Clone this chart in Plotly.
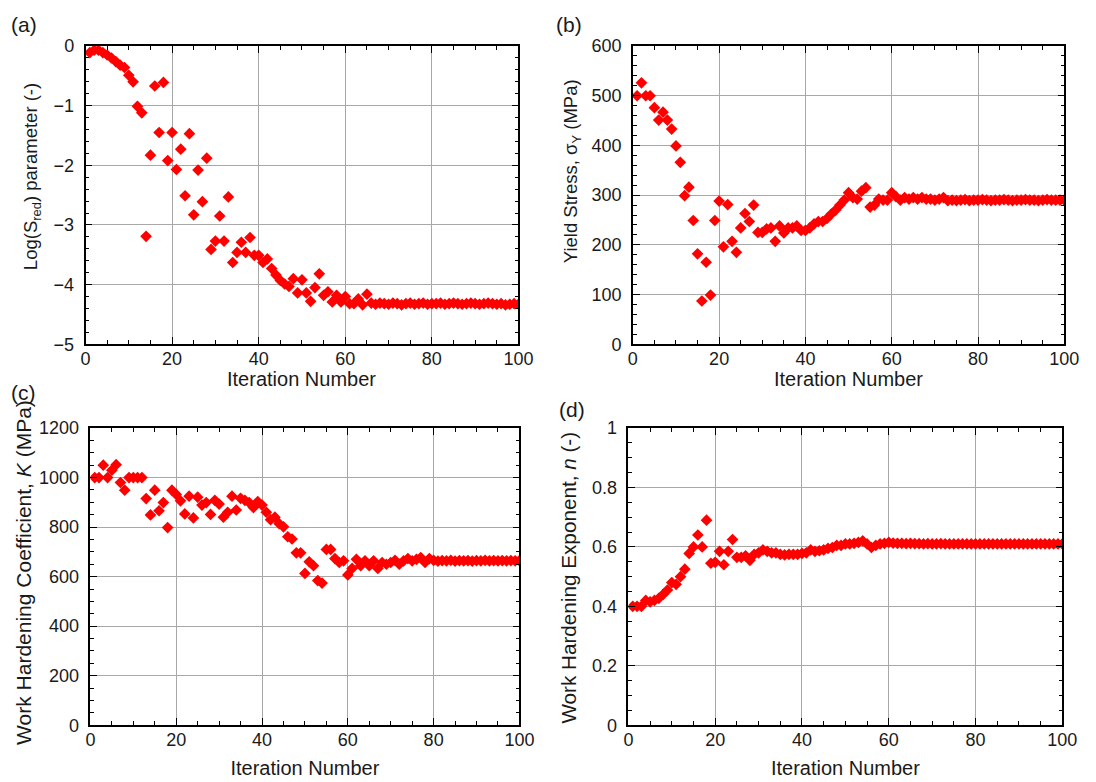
import plotly.graph_objects as go

W, H = 1096, 782

# ---------------- data ----------------
log_sred = [-0.11, -0.07, -0.07, -0.11, -0.15, -0.20, -0.26, -0.32, -0.36, -0.49,
            -0.60, -1.01, -1.12, -3.19, -1.83, -0.67, -1.45, -0.61, -1.92, -1.45,
            -2.07, -1.73, -2.51, -1.47, -2.83, -2.08, -2.61, -1.88, -3.41, -3.27,
            -2.85, -3.27, -2.53, -3.63, -3.46, -3.29, -3.46, -3.21, -3.51, -3.51,
            -3.63, -3.57, -3.73, -3.84, -3.93, -3.99, -4.03, -3.90, -4.14, -3.92,
            -4.14, -4.28, -4.05, -3.82, -4.18, -4.12, -4.29, -4.18, -4.29, -4.20,
            -4.32, -4.32, -4.24, -4.34, -4.16,
            -4.31, -4.33, -4.31, -4.32, -4.33, -4.31, -4.32, -4.34, -4.32, -4.31,
            -4.33, -4.32, -4.31, -4.33, -4.32, -4.32, -4.31, -4.33, -4.32, -4.31,
            -4.32, -4.33, -4.32, -4.31, -4.32, -4.33, -4.32, -4.31, -4.32, -4.33,
            -4.32, -4.34, -4.33, -4.32, -4.33]

yield_stress = [500, 526, 500, 500, 476, 451, 467, 451, 433, 399,
                366, 299, 316, 249, 182, 87, 165, 99, 249, 288,
                196, 281, 207, 185, 234, 263, 247, 280, 225, 225,
                232, 234, 207, 238, 224, 234, 234, 238, 229, 229,
                234, 242, 247, 247, 253, 262, 270, 280, 290, 305,
                295, 292, 308, 315, 276, 280, 292, 290, 290, 305,
                297, 290, 295, 292, 295, 292, 295, 292, 292, 290,
                292, 295, 289,
                290, 289, 290, 291, 289, 290, 290, 291, 290, 289,
                290, 290, 291, 290, 289, 290, 290, 291, 290, 290,
                289, 290, 291, 290, 290, 290, 290]

k_coeff = [1000, 1000, 1050, 1000, 1030, 1052, 980, 949, 1000, 1000,
           1000, 1000, 915, 849, 949, 866, 899, 798, 949, 932,
           906, 853, 925, 837, 921, 889, 899, 851, 908, 893,
           840, 860, 925, 869, 916, 908, 899, 879, 903, 889,
           860, 830, 840, 814, 801, 761, 752, 696, 696, 613,
           660, 644, 584, 574, 710, 710, 673, 657, 664, 607,
           633, 670, 644, 664, 644, 664, 633, 657, 650, 657,
           666, 650, 664, 673, 664, 670, 677, 657, 673, 666,
           663, 665, 664, 666, 663, 665, 664, 665, 663, 665,
           664, 666, 664, 665, 664, 665, 664, 665, 664, 665]

n_exp = [0.40, 0.40, 0.40, 0.42, 0.415, 0.42, 0.427, 0.44, 0.455, 0.48,
         0.474, 0.50, 0.525, 0.578, 0.60, 0.64, 0.60, 0.69, 0.545, 0.548,
         0.585, 0.54, 0.585, 0.625, 0.565, 0.565, 0.57, 0.555, 0.575, 0.58,
         0.59, 0.585, 0.58, 0.58, 0.575, 0.573, 0.575, 0.575, 0.575, 0.578,
         0.58, 0.59, 0.585, 0.587, 0.59, 0.595, 0.598, 0.605, 0.605, 0.61,
         0.61, 0.612, 0.615, 0.62, 0.61, 0.598, 0.605, 0.61, 0.612, 0.615,
         0.613, 0.612, 0.612, 0.611, 0.612, 0.611, 0.611, 0.61, 0.611, 0.61,
         0.61, 0.611, 0.61, 0.61, 0.61, 0.61, 0.61, 0.61, 0.61, 0.61,
         0.61, 0.61, 0.61, 0.61, 0.61, 0.61, 0.61, 0.61, 0.61, 0.61,
         0.61, 0.61, 0.61, 0.61, 0.61, 0.61, 0.61, 0.61, 0.61, 0.61]

y_titles = ["Log(S<sub>red</sub>) parameter (-)",
            "Yield Stress, σ<sub>Y</sub> (MPa)",
            "Work Hardening Coefficient, <i>K</i> (MPa)",
            "Work Hardening Exponent, <i>n</i> (-)"]
panel_labels = ["(a)", "(b)", "(c)", "(d)"]
x_title = "Iteration Number"

# ---------------- layout helpers ----------------
FONT = "Liberation Sans, Arial, sans-serif"
TXT = "#1a1a1a"

def px_x(p):
    return p / W

def px_y(p):
    return 1 - p / H

panels = [
    dict(data=log_sred, xd=(82, 523), yd=(37, 343), yr=[-5, 0], dt=1, mdt=0.2, top=True),
    dict(data=yield_stress, xd=(639.5, 1079), yd=(37, 343), yr=[0, 600], dt=100, mdt=20, top=True),
    dict(data=k_coeff, xd=(87, 524), yd=(429, 734), yr=[0, 1200], dt=200, mdt=50, top=False),
    dict(data=n_exp, xd=(635, 1077), yd=(429, 734), yr=[0, 1], dt=0.2, mdt=0.05, top=False),
]

fig = go.Figure()
layout = dict(width=W, height=H, margin=dict(l=0, r=0, t=0, b=0),
              paper_bgcolor="white", plot_bgcolor="white", showlegend=False,
              font=dict(family=FONT, color=TXT))

axis_common = dict(showline=True, linecolor="black", linewidth=1.5, mirror="ticks",
                   ticks="inside", ticklen=7, tickwidth=1.2, tickcolor="black",
                   showgrid=True, gridcolor="#a8a8a8", gridwidth=1, zeroline=False,
                   tickfont=dict(size=18, family=FONT, color=TXT))

annotations = []
for i, p in enumerate(panels):
    n = i + 1
    xa = "x" if n == 1 else f"x{n}"
    ya = "y" if n == 1 else f"y{n}"
    iters = list(range(1, len(p["data"]) + 1))
    fig.add_trace(go.Scatter(x=iters, y=p["data"], mode="markers", xaxis=xa, yaxis=ya,
                             marker=dict(symbol="diamond", size=9, color="#ff0000",
                                         line=dict(width=0))))
    xkey = "xaxis" if n == 1 else f"xaxis{n}"
    ykey = "yaxis" if n == 1 else f"yaxis{n}"
    xaxis = dict(axis_common, domain=[px_x(p["xd"][0]), px_x(p["xd"][1])],
                 range=[0, 100], dtick=20, tick0=0, anchor=ya,
                 ticklabelstandoff=-3,
                 minor=dict(ticks="inside", ticklen=4, dtick=5, tickcolor="black",
                            showgrid=False))
    if p["top"]:
        annotations.append(dict(text=x_title, x=px_x((p["xd"][0] + p["xd"][1]) / 2 - 0.5),
                                y=px_y(379), xref="paper", yref="paper", showarrow=False,
                                xanchor="center", yanchor="middle",
                                font=dict(size=20, family=FONT, color=TXT)))
    else:
        xaxis["title"] = dict(text=x_title, standoff=12,
                              font=dict(size=20, family=FONT, color=TXT))
    layout[xkey] = xaxis
    layout[ykey] = dict(axis_common, domain=[px_y(p["yd"][1]), px_y(p["yd"][0])],
                        range=p["yr"], dtick=p["dt"], tick0=0, anchor=xa,
                        ticklabelstandoff=6,
                        minor=dict(ticks="inside", ticklen=4, dtick=p["mdt"],
                                   tickcolor="black", showgrid=False))

fig.update_layout(**layout)

# y titles
ytitle_pos = [(27, 171, 18.5), (577, 165, 18.5), (19, 577, 21), (574, 583, 20.7)]
for t, (x, y, fs) in zip(y_titles, ytitle_pos):
    annotations.append(dict(text=t, x=px_x(x), y=px_y(y), xref="paper", yref="paper",
                            showarrow=False, textangle=-90, xanchor="center",
                            yanchor="middle", font=dict(size=fs, family=FONT, color=TXT)))
# panel labels
label_pos = [(19, 15), (574, 15), (19, 393), (578, 410)]
for t, (x, y) in zip(panel_labels, label_pos):
    annotations.append(dict(text=t, x=px_x(x), y=px_y(y), xref="paper", yref="paper",
                            showarrow=False, xanchor="center", yanchor="middle",
                            font=dict(size=21, family=FONT, color=TXT)))

fig.update_layout(annotations=annotations)
fig.write_html("out.html")
